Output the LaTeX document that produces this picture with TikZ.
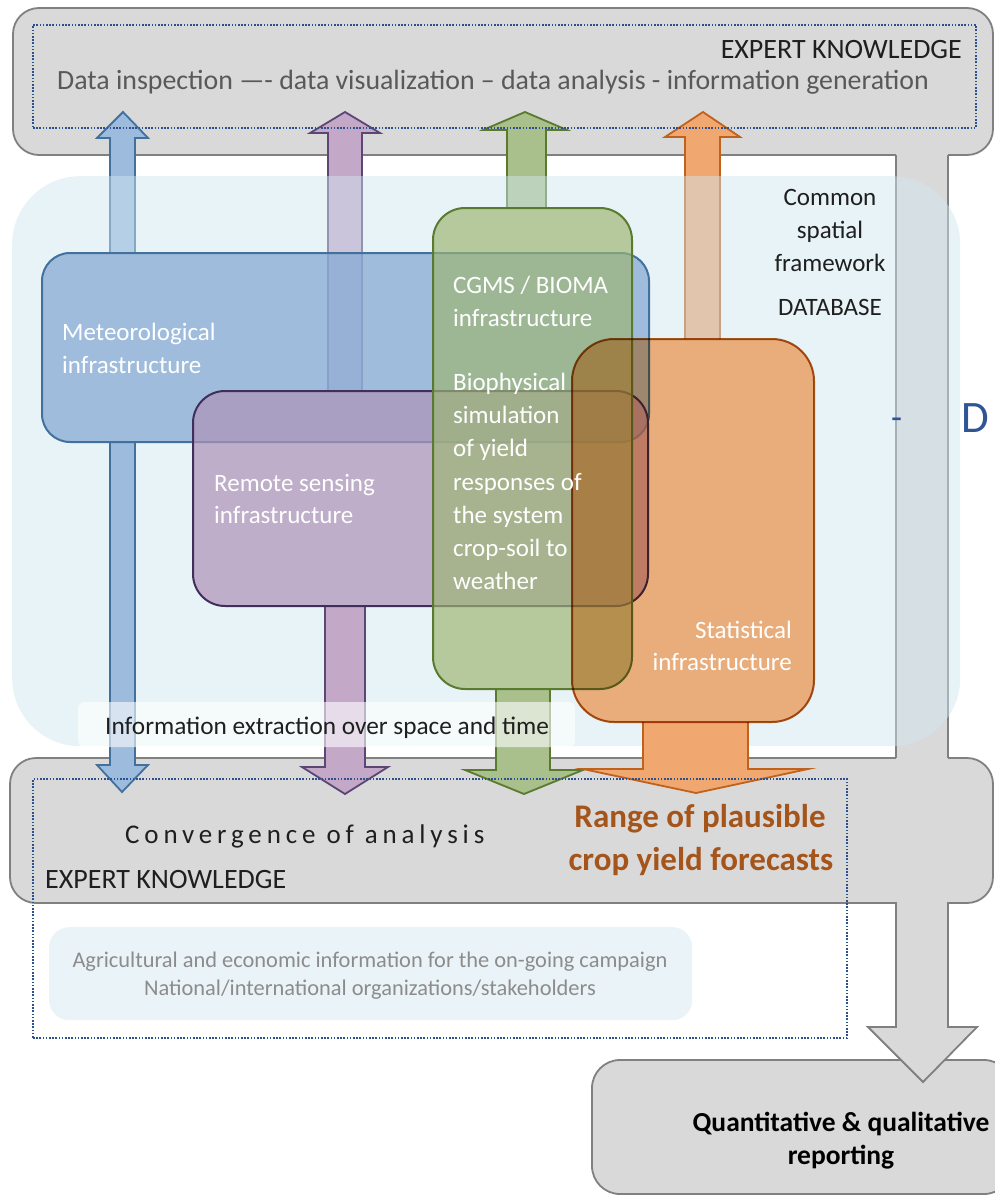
\documentclass[tikz,border=0pt]{standalone}
\usepackage{fontspec}
\setmainfont{Carlito}
\definecolor{grayfill}{HTML}{D9D9D9}
\definecolor{grayline}{HTML}{808080}
\definecolor{dotblue}{HTML}{2E4F8F}
\definecolor{regionblue}{HTML}{D1E6F0}
\definecolor{metfill}{HTML}{84A8D4}
\definecolor{metline}{HTML}{41719C}
\definecolor{remfill}{HTML}{AE94B8}
\definecolor{remline}{HTML}{3F2F5A}
\definecolor{cgmfill}{HTML}{9DB673}
\definecolor{cgmline}{HTML}{5A7A30}
\definecolor{statfill}{HTML}{FFB680}
\definecolor{statline}{HTML}{B05A18}
\definecolor{arrbluef}{HTML}{9DBBDD}
\definecolor{arrpurf}{HTML}{C4A8C8}
\definecolor{arrgrnf}{HTML}{A9C08C}
\definecolor{arrorgf}{HTML}{F0A870}
\definecolor{purline}{HTML}{5B4675}
\definecolor{orgline}{HTML}{C0621C}
\definecolor{rangecol}{HTML}{A5541A}
\definecolor{agrifill}{HTML}{EAF3F7}
\definecolor{agritext}{HTML}{8C8C8C}
\definecolor{dtext}{HTML}{595959}
\definecolor{ktext}{HTML}{1F1F1F}
\definecolor{dblue}{HTML}{2F5597}
\tikzset{
  graybox/.style={draw=grayline, fill=grayfill, line width=1.8pt, rounded corners=26pt, inner sep=0pt, outer sep=0pt, anchor=north west},
  infbox/.style={inner sep=0pt, outer sep=0pt, anchor=north west},
  blockarr/.style={line width=1.8pt, line join=miter},
  dotbox/.style={draw=dotblue, line width=1.6pt, dash pattern=on 1.6pt off 1.6pt, inner sep=0pt, outer sep=0pt, anchor=north west},
  boxtxt/.style={text=white, font=\fontsize{25}{30}\selectfont, inner sep=0pt, anchor=base west},
  plain/.style={inner sep=0pt, font=\fontsize{25}{30}\selectfont, text=ktext}
}
\begin{document}
\begin{tikzpicture}[x=1pt,y=-1pt]
\useasboundingbox (0,0) rectangle (994,1196);
\fill[white] (0,0) rectangle (994,1196);
% reporting box
\node[graybox, rounded corners=28pt, minimum width=420, minimum height=134] (report) at (592,1060) {};
% gray frame: top box, middle box, band, big arrow
\node[graybox, minimum width=980, minimum height=147] (topbox) at (13,8) {};
\node[graybox, minimum width=983, minimum height=145] (midbox) at (10,758) {};
\fill[grayfill] (896,150) rectangle (948,763);
\draw[grayline, line width=1.8pt] (896,0 |- topbox.south) -- (896,0 |- midbox.north)
  (948,0 |- topbox.south) -- (948,0 |- midbox.north);
\filldraw[draw=grayline, fill=grayfill, line width=1.8pt, line join=miter]
  (896,0 |- midbox.south) -- (896,1027) -- (868,1027) -- (923,1082) -- (977,1027) -- (948,1027) -- (948,0 |- midbox.south);
\fill[grayfill] (896.9,899) rectangle (947.1,907);
% agricultural info box
\node[fill=agrifill, rounded corners=20pt, minimum width=643, minimum height=93, inner sep=0pt, anchor=north west] (agri) at (49,927) {};
% box frames (drawn later)
\path (42,253) node[infbox, minimum width=607, minimum height=189] (meteo) {}
      (193,391) node[infbox, minimum width=455, minimum height=215] (remote) {}
      (433,208) node[infbox, minimum width=199, minimum height=481] (cgms) {}
      (572,339) node[infbox, minimum width=242, minimum height=383] (stat) {};
% up arrows
\filldraw[blockarr, fill=arrbluef, draw=metline] (110,0 |- meteo.north) -- (110,138) -- (97,138) -- (123,112) -- (148,138) -- (135,138) -- (135,0 |- meteo.north);
\filldraw[blockarr, fill=arrpurf, draw=purline] (328,0 |- remote.north) -- (328,133) -- (310,133) -- (345,112) -- (380,133) -- (362,133) -- (362,0 |- remote.north);
\filldraw[blockarr, fill=arrgrnf, draw=cgmline] (507,0 |- cgms.north) -- (507,130) -- (483,130) -- (525,112) -- (567,130) -- (546,130) -- (546,0 |- cgms.north);
\filldraw[blockarr, fill=arrorgf, draw=orgline] (685,0 |- stat.north) -- (685,137) -- (665,137) -- (703,112) -- (740,137) -- (720,137) -- (720,0 |- stat.north);
% database region
\node[fill=regionblue, fill opacity=0.48, rounded corners=68pt, minimum width=948, minimum height=570, inner sep=0pt, anchor=north west] (dbregion) at (12,176) {};
% down arrows
\filldraw[blockarr, fill=arrbluef, draw=metline] (110,0 |- meteo.south) -- (110,765) -- (97,765) -- (122,792) -- (148,765) -- (135,765) -- (135,0 |- meteo.south);
\filldraw[blockarr, fill=arrpurf, draw=purline] (325,0 |- remote.south) -- (325,767) -- (302,767) -- (345,794) -- (388,767) -- (365,767) -- (365,0 |- remote.south);
\filldraw[blockarr, fill=arrgrnf, draw=cgmline] (496,0 |- cgms.south) -- (496,770) -- (465,770) -- (524,794) -- (583,770) -- (550,770) -- (550,0 |- cgms.south);
\filldraw[blockarr, fill=arrorgf, draw=orgline] (643,0 |- stat.south) -- (643,769) -- (583,769) -- (696,793) -- (808,769) -- (748,769) -- (748,0 |- stat.south);
% infrastructure boxes
\draw[line width=2pt, fill=metfill, fill opacity=0.72, draw=metline, rounded corners=28pt] (meteo.north west) rectangle (meteo.south east);
\draw[line width=2pt, fill=remfill, fill opacity=0.72, draw=remline, rounded corners=32pt] (remote.north west) rectangle (remote.south east);
\draw[line width=2pt, fill=cgmfill, fill opacity=0.68, draw=cgmline, rounded corners=32pt] (cgms.north west) rectangle (cgms.south east);
\begin{scope}[blend mode=multiply]
\draw[line width=2pt, fill=statfill, draw=statline, rounded corners=42pt] (stat.north west) rectangle (stat.south east);
\end{scope}
% information extraction label
\node[fill=white, fill opacity=0.6, rounded corners=6pt, minimum width=497, minimum height=45, inner sep=0pt, anchor=north west] (infolabel) at (78,702) {};
% dotted frames
\node[dotbox, minimum width=943, minimum height=103] (topdots) at (33,25) {};
\node[dotbox, minimum width=814, minimum height=259] (botdots) at (33,779) {};
% texts
\node[plain, anchor=base west, text=dtext, font=\fontsize{27.85}{32}\selectfont] (datatxt) at (57,90) {Data inspection —- data visualization – data analysis - information generation};
\node[plain, anchor=base east, font=\fontsize{28}{32}\selectfont] (ek1) at (962,58.5) {EXPERT KNOWLEDGE};
\node[plain, anchor=base west, font=\fontsize{28}{32}\selectfont] (ek2) at (45,888.5) {EXPERT KNOWLEDGE};
\node[plain, anchor=base west, font={\fontsize{27}{32}\selectfont\addfontfeatures{LetterSpace=18}}] (conv) at (125,843) {Convergence of analysis};
\node[plain, anchor=base, text=rangecol, font=\fontsize{33}{40}\selectfont\bfseries] (range1) at (700,827) {Range of plausible};
\node[plain, anchor=base, text=rangecol, font=\fontsize{33}{40}\selectfont\bfseries] (range2) at (701,870) {crop yield forecasts};
\node[plain, anchor=base, text=black, font=\fontsize{27.5}{32}\selectfont\bfseries] (q1) at (841,1131) {Quantitative \& qualitative};
\node[plain, anchor=base, text=black, font=\fontsize{27.5}{32}\selectfont\bfseries] (q2) at (841,1164) {reporting};
\node[plain, anchor=base, text=agritext, font=\fontsize{22.4}{28}\selectfont] (agri1) at (370,967) {Agricultural and economic information for the on-going campaign};
\node[plain, anchor=base, text=agritext, font=\fontsize{22.4}{28}\selectfont] (agri2) at (370,995) {National/international organizations/stakeholders};
\node[plain, anchor=base west, font=\fontsize{25.3}{30}\selectfont] (infotxt) at (105,734.5) {Information extraction over space and time};
\node[plain, anchor=base] (cs1) at (830,205) {Common};
\node[plain, anchor=base] (cs2) at (830,238) {spatial};
\node[plain, anchor=base] (cs3) at (830,271) {framework};
\node[plain, anchor=base] (cs4) at (830,315) {DATABASE};
\node[plain, anchor=base west, text=dblue, font=\fontsize{45}{50}\selectfont] (bigD) at (961,432) {D};
\node[plain, anchor=base, text=dblue, font=\fontsize{36}{40}\selectfont] (dash) at (896.5,429) {-};
\node[boxtxt] (met1) at (62,340) {Meteorological};
\node[boxtxt] (met2) at (62,373) {infrastructure};
\node[boxtxt] (rem1) at (214,491) {Remote sensing};
\node[boxtxt] (rem2) at (214,523) {infrastructure};
\node[boxtxt] (cg1) at (453,293) {CGMS / BIOMA};
\node[boxtxt] (cg2) at (453,326) {infrastructure};
\foreach \t [count=\i] in {Biophysical, simulation, of yield, responses of, the system, crop-soil to, weather}
  \node[boxtxt] (bio\i) at (453,{390.5+(\i-1)*33.2}) {\t};
\node[boxtxt, anchor=base east] (st1) at (792,638) {Statistical};
\node[boxtxt, anchor=base east] (st2) at (792,670) {infrastructure};
\end{tikzpicture}
\end{document}
